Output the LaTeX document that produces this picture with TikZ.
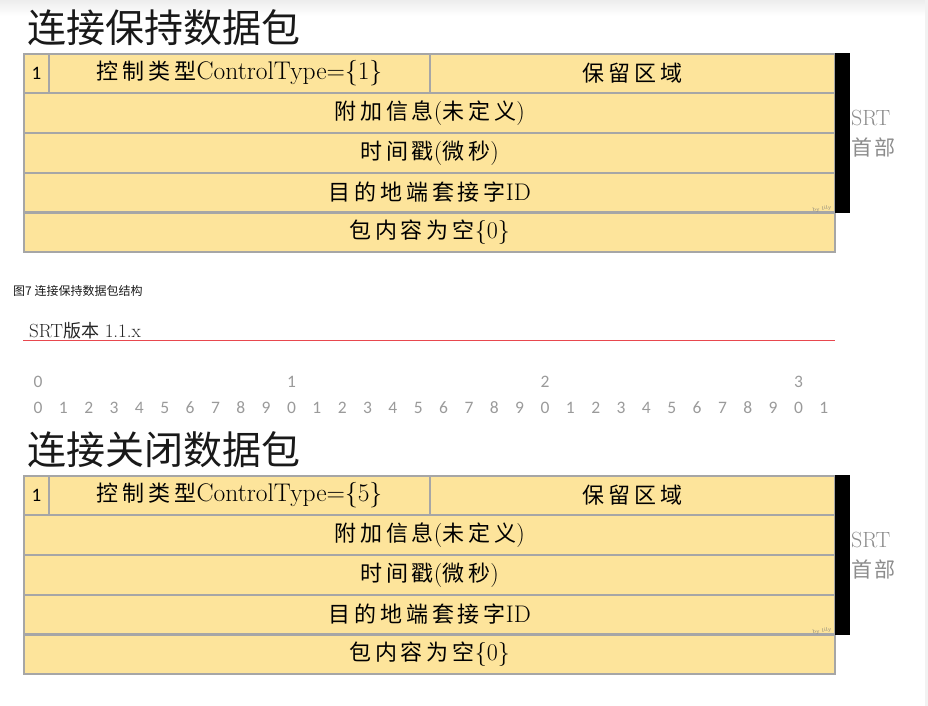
\documentclass[tikz,border=0pt]{standalone}
\usepackage{fontspec}
\newfontfamily\cjk{Noto Sans CJK SC}
\newfontfamily\cjkt{Noto Sans CJK SC}[LetterSpace=18]
\newfontfamily\cjks{Noto Sans CJK SC}[LetterSpace=10]
\newfontfamily\calib{Carlito}
\definecolor{cellfill}{HTML}{FDE49B}
\definecolor{cellline}{HTML}{A6A6A6}
\definecolor{numgray}{HTML}{9A9A9A}
\definecolor{srtgray}{HTML}{8C8C8C}
\definecolor{redline}{HTML}{E8474E}
\newcommand\tabfont{\fontsize{24}{28}\selectfont}
\newcommand\zh[1]{{\cjkt\fontsize{22}{26}\selectfont #1}}
\tikzset{
  cell/.style={draw=cellline, fill=cellfill, line width=1.2pt, inner sep=0pt, font=\tabfont, text=black},
  hdrbar/.style={fill=black, inner sep=0pt, minimum width=15pt, minimum height=160pt},
  srtlbl/.style={text=srtgray, inner sep=0pt, anchor=west},
  title/.style={inner sep=0pt, anchor=west, font=\cjk\fontsize{39}{41}\selectfont, text=black!90},
  digit/.style={inner sep=0pt, font=\calib\fontsize{17.5}{20}\selectfont, text=numgray},
}
\newcommand\packet[3]{%
  \begin{scope}[shift={(0,#1)}]
    \node[title] (title#1) at (27,28) {#2};
    \node[cell, minimum width=25pt, minimum height=39pt, font=\calib\fontsize{19}{21}\selectfont] (one#1) at (36.5,73.5) {1};
    \node[cell, minimum width=381pt, minimum height=39pt, font=\fontsize{25.5}{29}\selectfont] (ctype#1) at (239.5,73.5) {\zh{控制类型}ControlType=\{#3\}};
    \node[cell, minimum width=405pt, minimum height=39pt] (resv#1) at (632.5,73.5) {\zh{保留区域}};
    \node[cell, minimum width=811pt, minimum height=40pt] (info#1) at (429.5,113) {\zh{附加信息}(\zh{未定义})};
    \node[cell, minimum width=811pt, minimum height=40pt] (time#1) at (429.5,153) {\zh{时间戳}(\zh{微秒})};
    \node[cell, minimum width=811pt, minimum height=38.5pt] (dest#1) at (429.5,192.25) {\zh{目的地端套接字}ID};
    \node[cell, minimum width=811pt, minimum height=39pt] (body#1) at (429.5,232.5) {\zh{包内容为空}\{0\}};
    \node[hdrbar] (bar#1) at (842.5,133) {};
    \node[srtlbl, font=\fontsize{22}{24}\selectfont] (srt#1) at (851,118) {SRT};
    \node[srtlbl, font=\cjks\fontsize{21}{23}\selectfont] (hdr#1) at (851,147) {首部};
    \node[inner sep=0pt, text=black!55, font=\fontsize{5}{6}\selectfont, rotate=8] (by#1) at (822,209) {by lily};
  \end{scope}}
\begin{document}
\begin{tikzpicture}[x=1pt,y=-1pt]
  \useasboundingbox (0,0) rectangle (928,706);
  \fill[top color=black!7, bottom color=white] (0,0) rectangle (928,16);
  \fill[black!5] (924.5,0) rectangle (928,706);
  \packet{0}{连接保持数据包}{1}
  \node[inner sep=0pt, anchor=west, font=\cjk\fontsize{12}{14}\selectfont, text=black!90] (caption) at (13,291) {图7 连接保持数据包结构};
  \node[inner sep=0pt, anchor=base west, font=\fontsize{19}{22}\selectfont, text=black!85] (version) at (29,337) {SRT{\cjk\fontsize{18}{20}\selectfont 版本} 1.1.x};
  \coordinate (redA) at (23,340.5);
  \coordinate (redB) at (835,340.5);
  \draw[redline, line width=1.8pt] (redA) -- (redB);
  \foreach \i/\t in {0/0,10/1,20/2,30/3} {
    \node[digit] (top\i) at ({38+25.35*\i},381.5) {\t};
  }
  \foreach \i in {0,...,31} {
    \pgfmathtruncatemacro\dd{mod(\i,10)}
    \node[digit] (bit\i) at ({38+25.35*\i},407.5) {\dd};
  }
  \packet{422}{连接关闭数据包}{5}
\end{tikzpicture}
\end{document}
